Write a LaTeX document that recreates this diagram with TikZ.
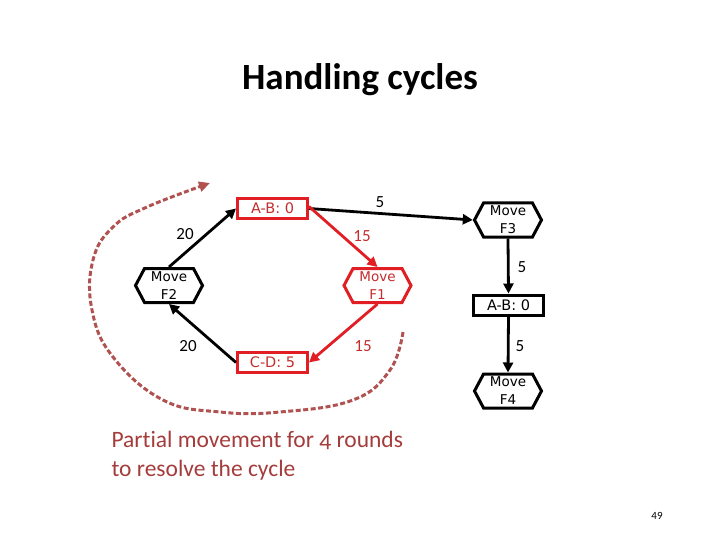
\documentclass[tikz,border=0pt]{standalone}
\usepackage{fontspec}
\setmainfont{Carlito}
\newfontfamily\boxfont{DejaVu Sans}
\usetikzlibrary{shapes.symbols,arrows.meta}
\definecolor{boxred}{RGB}{225,30,36}
\definecolor{txtred}{RGB}{195,45,45}
\definecolor{dashred}{RGB}{176,82,80}
\definecolor{notered}{RGB}{165,60,60}
\begin{document}
\begin{tikzpicture}[x=1pt,y=-1pt,
 boxn/.style={draw, line width=3pt, minimum width=70pt, minimum height=20pt, inner sep=0pt, font=\boxfont\fontsize{14.5}{14.5}\selectfont},
 hexn/.style={draw, line width=3pt, shape=signal, signal to=west and east, signal pointer angle=124, minimum width=67pt, minimum height=34pt, inner sep=0pt, align=center, font=\boxfont\fontsize{13.5}{18}\selectfont},
 edge/.style={line width=2.8pt, -{Triangle[length=10pt,width=10pt]}},
 lbl/.style={font=\fontsize{17}{17}\selectfont},
 cyc/.style={dashred, line width=3pt, dash pattern=on 5pt off 2.5pt, -{Triangle[length=11pt,width=10pt]}},
]
\useasboundingbox (0,0) rectangle (720,540);
\node[font=\bfseries\fontsize{37}{37}\selectfont] (title) at (360,80) {Handling cycles};

\node[boxn, draw=boxred, text=txtred] (ab) at (272.5,208.5) {A-B: 0};
\node[hexn] (f2) at (169,285.5) {Move\\F2};
\node[hexn, draw=boxred, text=txtred] (f1) at (377.5,285.5) {Move\\F1};
\node[boxn, draw=boxred, text=txtred] (cd) at (272.5,362.5) {C-D: 5};
\node[hexn] (f3) at (508,220) {Move\\F3};
\node[boxn] (ab2) at (508.5,305) {A-B: 0};
\node[hexn] (f4) at (508,391) {Move\\F4};

\draw[edge] (f2.north) -- (ab.west);
\draw[edge] (cd.west) -- (f2.south);
\draw[edge] (ab.east) -- (f3.west);
\draw[edge, boxred] ([yshift=2pt]ab.east) -- (f1.north);
\draw[edge, boxred] (f1.south) -- (cd.east);
\draw[edge] (f3.south) -- (ab2.north);
\draw[edge] (ab2.south) -- (f4.north);

\node[lbl] (l20a) at (185,234) {20};
\node[lbl] (l20b) at (188,346) {20};
\node[lbl, text=txtred] (l15a) at (362,236) {15};
\node[lbl, text=txtred] (l15b) at (363,346) {15};
\node[lbl] (l5a) at (380,202) {5};
\node[lbl] (l5b) at (522,267) {5};
\node[lbl] (l5c) at (520,346) {5};

\coordinate (cs) at (403,332);
\coordinate (ce) at (210,183);
\draw[cyc] plot[smooth, tension=0.7] coordinates {(cs) (390,370) (353,400) (280,412) (220,412) (163,400) (113,357) (92,310) (93,260) (113,227) (147,207) (ce)};

\node[anchor=base west, text=notered, font=\addfontfeatures{Numbers=OldStyle,Ligatures=NoCommon}\fontsize{23.5}{23.5}\selectfont] (note1) at (108,447) {Partial movement for 4 rounds};
\node[anchor=base west, text=notered, font=\addfontfeatures{Ligatures=NoCommon}\fontsize{23.5}{23.5}\selectfont] (note2) at (108,476) {to resolve the cycle};
\node[font=\fontsize{11}{11}\selectfont] (pg) at (657,516) {49};
\end{tikzpicture}
\end{document}
